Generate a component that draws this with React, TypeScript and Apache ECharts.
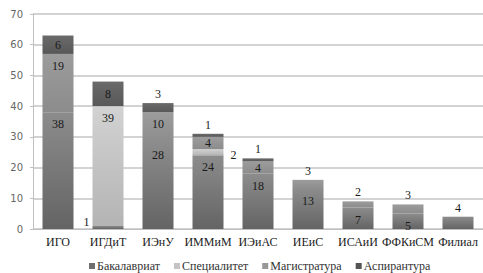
import React, { useEffect, useRef } from "react";
import * as echarts from "echarts";

const categories = ["ИГО", "ИГДиТ", "ИЭнУ", "ИММиМ", "ИЭиАС", "ИЕиС", "ИСАиИ", "ФФКиСМ", "Филиал"];
const seriesNames = ["Бакалавриат", "Специалитет", "Магистратура", "Аспирантура"];
const bakalavriat = [38, 1, 28, 24, 18, 13, 7, 5, 4];
const specialitet = [null, 39, null, 2, null, null, null, null, null];
const magistratura = [19, null, 10, 4, 4, 3, 2, 3, null];
const aspirantura = [6, 8, 3, 1, 1, null, null, null, null];
const yTicks = { min: 0, max: 70, interval: 10 };

// label placement per series / category (style, not data)
const labelPos: Record<string, (string | null)[]> = {
  Бакалавриат: ["insideTop", "left", "insideTop", "insideTop", "insideTop", "insideTop", "insideTop", "insideTop", "top"],
  Специалитет: [null, "insideTop", null, "right", null, null, null, null, null],
  Магистратура: ["insideTop", null, "insideTop", "inside", "inside", "top", "top", "top", null],
  Аспирантура: ["inside", "inside", "top", "top", "top", null, null, null, null],
};

const grad = (top: string, bottom: string) =>
  new echarts.graphic.LinearGradient(0, 0, 0, 1, [
    { offset: 0, color: top },
    { offset: 1, color: bottom },
  ]);

const fills: Record<string, any> = {
  Бакалавриат: grad("#8c8c8c", "#646464"),
  Специалитет: grad("#d2d2d2", "#b4b4b4"),
  Магистратура: grad("#9c9c9c", "#8c8c8c"),
  Аспирантура: grad("#6a6a6a", "#585858"),
};
const legendColors: Record<string, string> = {
  Бакалавриат: "#6e6e6e",
  Специалитет: "#c4c4c4",
  Магистратура: "#989898",
  Аспирантура: "#555555",
};

export default function App() {
  const ref = useRef<HTMLDivElement>(null);
  useEffect(() => {
    if (!ref.current) return;
    const chart = echarts.init(ref.current, null, { renderer: "svg" });
    const dataSets = [bakalavriat, specialitet, magistratura, aspirantura];
    const series = seriesNames.map((name, si) => ({
      name,
      type: "bar",
      stack: "total",
      barCategoryGap: "38%",
      color: legendColors[name],
      itemStyle: { color: fills[name] },
      label: { color: "#1a1a1a", fontFamily: "Liberation Serif" },
      data: dataSets[si].map((v, ci) => {
        const pos = labelPos[name][ci];
        const lbl: any = {
          show: v != null,
          position: pos || "inside",
          distance: pos === "insideTop" ? 6 : 3,
          fontFamily: "Liberation Serif",
          fontSize: 12,
          color: "#1a1a1a",
        };
        if (pos === "left") lbl.offset = [0, -5];
        if (pos === "right") lbl.offset = [4, 3];
        return { value: v, label: lbl };
      }),
    }));
    chart.setOption({
      animation: false,
      backgroundColor: "#ffffff",
      grid: { left: 33, right: -4, top: 14, bottom: 44 },
      legend: {
        data: seriesNames.map((n) => ({ name: n, itemStyle: { color: legendColors[n] } })),
        left: 84,
        top: 255,
        icon: "rect",
        itemWidth: 6,
        itemHeight: 6,
        itemGap: 14,
        textStyle: { fontFamily: "Liberation Serif", fontSize: 12, color: "#333", padding: [0, 0, 0, -3] },
      },
      xAxis: {
        type: "category",
        data: categories,
        axisLine: { show: true, lineStyle: { color: "#bfbfbf", width: 1 } },
        axisTick: { show: false },
        axisLabel: { interval: 0, fontFamily: "Liberation Serif", fontSize: 12, color: "#222", margin: 7 },
      },
      yAxis: {
        type: "value",
        min: yTicks.min,
        max: yTicks.max,
        interval: yTicks.interval,
        axisLine: { show: true, lineStyle: { color: "#bfbfbf" } },
        axisTick: { show: true, length: 3, lineStyle: { color: "#bfbfbf" } },
        splitLine: { lineStyle: { color: "#c4c4c4", width: 1.5 } },
        axisLabel: { fontFamily: "DejaVu Sans", fontSize: 10, color: "#666", margin: 10 },
      },
      series,
    });
    return () => chart.dispose();
  }, []);
  return <div ref={ref} style={{ width: 483, height: 273, position: "absolute", left: 0, top: 0 }} />;
}
